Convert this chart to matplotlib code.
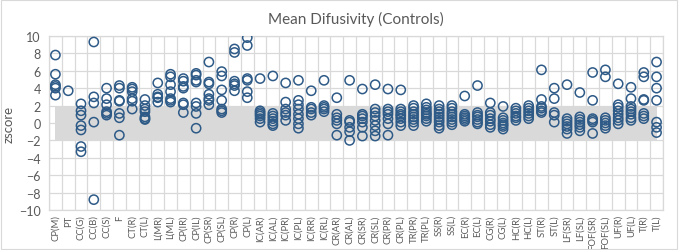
import matplotlib.pyplot as plt

labels = ['CP(M)', 'PT', 'CC(G)', 'CC(B)', 'CC(S)', 'F', 'CT(R)', 'CT(L)',
          'L(MR)', 'L(ML)', 'CP(IR)', 'CP(IL)', 'CP(SR)', 'CP(SL)', 'CP(R)',
          'CP(L)', 'IC(AR)', 'IC(AL)', 'IC(PR)', 'IC(PL)', 'IC(RR)', 'IC(RL)',
          'CR(AR)', 'CR(AL)', 'CR(SR)', 'CR(SL)', 'CR(PR)', 'CR(PL)',
          'TR(PR)', 'TR(PL)', 'SS(R)', 'SS(L)', 'EC(R)', 'EC(L)', 'CG(R)',
          'CG(L)', 'HC(R)', 'HC(L)', 'ST(R)', 'ST(L)', 'LF(SR)', 'LF(SL)',
          'FOF(SR)', 'FOF(SL)', 'UF(R)', 'UF(L)', 'T(R)', 'T(L)']

zscores = [
    [7.8, 5.6, 4.4, 4.2, 4.0, 3.2],
    [3.7],
    [2.2, 1.4, 0.9, -0.3, -0.8, -2.7, -3.3],
    [9.3, 3.0, 2.3, 0.1, -8.8],
    [4.0, 2.8, 2.1, 1.3, 1.1, 0.9],
    [4.3, 4.0, 2.6, 2.5, 1.1, 0.6, -1.4],
    [4.1, 3.9, 3.6, 2.8, 2.5, 1.6],
    [2.7, 2.0, 1.6, 1.3, 0.7, 0.5, 0.4],
    [4.6, 3.3, 3.0, 2.9, 2.4],
    [5.6, 5.3, 4.4, 3.6, 2.8, 2.6, 2.4],
    [5.1, 4.8, 4.2, 4.0, 2.3, 2.1, 1.2],
    [5.7, 5.5, 4.9, 4.7, 2.3, 1.9, 1.1, -0.6],
    [7.0, 4.7, 4.5, 3.3, 2.8, 2.6, 2.1],
    [5.9, 5.4, 3.8, 2.6, 1.6, 1.4, 1.2],
    [8.5, 8.1, 4.8, 4.5, 4.3, 3.7],
    [9.8, 8.9, 5.1, 4.9, 3.6, 2.9],
    [5.1, 1.4, 1.2, 1.0, 0.8, 0.5, 0.1],
    [5.4, 1.1, 0.8, 0.5, 0.2, -0.1, -0.3],
    [4.6, 2.4, 1.6, 1.2, 0.9, 0.3],
    [4.9, 2.6, 2.1, 1.6, 1.0, 0.5, -0.1, -0.6],
    [3.7, 1.8, 1.6, 1.2, 0.9],
    [4.9, 2.0, 1.8, 1.6, 1.3],
    [2.9, 1.0, 0.6, 0.3, -0.1, -1.4],
    [4.9, 0.3, 0.1, -0.5, -1.0, -2.0],
    [3.9, 1.0, 0.8, 0.5, 0.1, -0.5, -1.5],
    [4.4, 1.6, 1.2, 0.8, 0.3, -0.3, -0.9, -1.5],
    [3.9, 1.6, 1.3, 1.0, 0.5, -0.1, -1.4],
    [3.8, 1.6, 1.3, 1.0, 0.8, 0.5, 0.1, -0.3],
    [2.0, 1.7, 1.3, 1.0, 0.7, 0.4, 0.1, -0.3],
    [2.2, 1.8, 1.5, 1.2, 1.0, 0.8, 0.5, 0.2],
    [2.0, 1.6, 1.3, 1.0, 0.7, 0.4, 0.1, -0.3, -0.6],
    [2.0, 1.7, 1.3, 1.0, 0.7, 0.4, 0.1, -0.2],
    [3.1, 1.0, 0.8, 0.6, 0.4, 0.2],
    [4.3, 1.2, 0.9, 0.7, 0.4, 0.1, -0.1],
    [2.3, 1.2, 0.9, 0.5, 0.2, -0.2, -0.5],
    [1.9, 0.6, 0.3, 0.0, -0.2, -0.4, -0.7],
    [1.7, 1.4, 1.1, 0.8, 0.6, 0.3],
    [2.0, 1.7, 1.4, 1.1, 0.8, 0.5],
    [6.1, 2.7, 1.9, 1.7, 1.4, 1.2],
    [4.0, 2.8, 1.2, 0.9, 0.1],
    [4.4, 0.5, 0.2, -0.1, -0.4, -0.7, -1.2],
    [3.5, 0.7, 0.4, 0.1, -0.2, -0.5, -0.9],
    [5.8, 2.6, 0.5, 0.3, 0.1, -1.2],
    [6.1, 5.3, 0.6, 0.3, 0.0, -0.3, -0.6],
    [4.5, 2.1, 1.8, 1.4, 1.0, 0.6, 0.3, -0.1],
    [4.1, 2.8, 1.9, 1.6, 1.3, 1.0, 0.6, 0.3],
    [5.8, 5.3, 2.7, 2.6, 1.1, 0.8, 0.5],
    [7.0, 5.3, 4.0, 2.6, 0.1, -0.5, -1.1],
]

band_low = -2
band_high = 2

text_color = '#595959'
grid_color = '#d9d9d9'
marker_color = '#2e5a87'

plt.rcParams['font.family'] = ['Lato', 'DejaVu Sans']

fig = plt.figure(figsize=(6.81, 2.51), dpi=100)
ax = fig.add_axes([0.072, 0.159, 0.9015, 0.694])

n = len(labels)
ax.fill_between([0, n - 1], band_low, band_high, color='#d9d9d9', lw=0, zorder=2)

xs = []
ys = []
for i, vals in enumerate(zscores):
    xs += [i] * len(vals)
    ys += vals
ax.scatter(xs, ys, s=44, facecolors='none', edgecolors=marker_color,
           linewidths=1.1, zorder=3)

ax.set_xlim(-0.5, n - 0.5)
ax.set_ylim(-10, 10)
ax.set_yticks(range(-10, 11, 2))
ax.set_xticks(range(n))
ax.set_xticklabels(labels, rotation=90, fontsize=6.8, color=text_color)
ax.tick_params(axis='y', labelsize=9, colors=text_color, length=0, pad=6)
ax.tick_params(axis='x', length=0, pad=3)
ax.grid(True, axis='y', color=grid_color, lw=0.9, zorder=0)
for i in range(n + 1):
    ax.axvline(i - 0.5, color=grid_color, lw=0.9, zorder=1)
for sp in ax.spines.values():
    sp.set_color(grid_color)
    sp.set_linewidth(0.9)

ax.set_ylabel('zscore', fontsize=9.5, color=text_color, labelpad=3)
ax.set_title('Mean Difusivity (Controls)', fontsize=11, color=text_color, pad=9)

fig.patches.append(plt.Rectangle((0.002, 0.004), 0.992, 0.992, transform=fig.transFigure,
                                 fill=False, edgecolor='#d9d9d9', lw=0.8))

plt.savefig('out.png', dpi=100)
